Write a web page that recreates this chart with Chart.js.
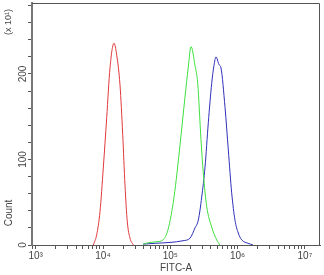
<!DOCTYPE html>
<html>
<head>
<meta charset="utf-8">
<script src="https://cdn.jsdelivr.net/npm/chart.js@4"></script>
<style>
  html, body { margin: 0; padding: 0; background: #fff; }
  #wrap { width: 324px; height: 275px; }
</style>
</head>
<body>
<div id="wrap"><canvas id="chart"></canvas></div>
<script>
// FITC-A values (x) and counts in units of x10^1 (y)
const redX = [7180, 8060, 9020, 10100, 11350, 12700, 14570, 15990, 17890, 19630, 21220, 22970, 25190, 28200];
const redY = [0, 12, 39, 90, 149, 207, 236, 222, 187, 129, 70, 27, 8, 0];

const greenX = [39300, 49900, 65600, 77900, 92500, 113600, 139400, 165300, 185000, 203100, 232900, 255400, 285800, 309300, 347500, 412200, 489000, 547000];
const greenY = [1, 3, 4, 6, 18, 56, 117, 173, 208, 232, 210, 189, 123, 84, 45, 21, 6, 0];

const blueX = [39300, 59300, 99000, 154500, 196400, 232900, 260600, 292800, 327800, 367000, 412200, 445600, 477500, 529200, 566500, 650100, 727800, 816600, 914600, 1023000, 1151000, 1429000, 1694000];
const blueY = [1, 2, 3, 5, 8, 20, 29, 56, 91, 143, 189, 210, 220, 211, 207, 161, 111, 61, 29, 14, 6, 2, 0];

const xMin = 881;
const xMax = 16760000;
const yMax = 283;
const yLabeled = [0, 100, 200];
const supers = { 3: '³', 4: '⁴', 5: '⁵', 6: '⁶', 7: '⁷' };

const toPoints = (xs, ys) => xs.map((x, i) => ({ x: x, y: ys[i] }));

const line = (label, xs, ys, color) => ({
  label: label,
  data: toPoints(xs, ys),
  borderColor: color,
  borderWidth: 1,
  pointRadius: 0,
  cubicInterpolationMode: 'monotone',
  fill: false
});

// frame on top / right plus the left-side axis texts
const framePlugin = {
  id: 'frame',
  afterDraw(chart) {
    const { ctx, chartArea: a } = chart;
    ctx.save();
    ctx.strokeStyle = '#555';
    ctx.lineWidth = 1;
    ctx.beginPath();
    ctx.moveTo(a.left, a.top + 0.5);
    ctx.lineTo(a.right - 0.5, a.top + 0.5);
    ctx.lineTo(a.right - 0.5, a.bottom);
    ctx.stroke();

    ctx.fillStyle = '#444';
    ctx.font = '10px "Liberation Sans", Arial, sans-serif';
    ctx.textAlign = 'center';
    ctx.textBaseline = 'middle';
    ctx.translate(9, 213);
    ctx.rotate(-Math.PI / 2);
    ctx.fillText('Count', 0, 0);
    ctx.restore();

    ctx.save();
    ctx.fillStyle = '#444';
    ctx.font = '9px "Liberation Sans", Arial, sans-serif';
    ctx.textAlign = 'center';
    ctx.textBaseline = 'middle';
    ctx.translate(9, 22);
    ctx.rotate(-Math.PI / 2);
    ctx.fillText('(x 10¹)', 0, 0);
    ctx.restore();
  }
};

new Chart(document.getElementById('chart'), {
  type: 'line',
  data: {
    datasets: [
      line('red', redX, redY, '#e0393b'),
      line('green', greenX, greenY, '#3ee03e'),
      line('blue', blueX, blueY, '#3030b8')
    ]
  },
  options: {
    responsive: true,
    maintainAspectRatio: false,
    animation: false,
    layout: { padding: { top: 3, right: 4, left: 0, bottom: 0 } },
    plugins: {
      legend: { display: false },
      tooltip: { enabled: false }
    },
    scales: {
      x: {
        type: 'logarithmic',
        min: xMin,
        max: xMax,
        afterBuildTicks: (scale) => {
          // keep only the 1..9 per decade ticks
          scale.ticks = scale.ticks.filter(t => {
            const m = t.value / Math.pow(10, Math.floor(Math.log10(t.value) + 1e-9));
            return Math.abs(m - Math.round(m)) < 1e-6;
          });
        },
        afterFit: (scale) => { scale.height = 30; },
        grid: {
          drawOnChartArea: false,
          drawTicks: true,
          tickLength: 4,
          tickColor: '#555'
        },
        border: { display: true, color: '#555', width: 1 },
        ticks: {
          autoSkip: false,
          maxRotation: 0,
          minRotation: 0,
          padding: 1,
          color: '#444',
          font: { family: '"Liberation Sans", Arial, sans-serif', size: 10 },
          callback: (value) => {
            const e = Math.log10(value);
            if (Math.abs(e - Math.round(e)) < 1e-9) return '10' + supers[Math.round(e)];
            return '';
          }
        },
        title: {
          display: true,
          text: 'FITC-A',
          color: '#444',
          font: { family: '"Liberation Sans", Arial, sans-serif', size: 10 },
          padding: { top: 0, bottom: 1 }
        }
      },
      y: {
        min: 0,
        max: yMax,
        afterFit: (scale) => { scale.width = 32; },
        grid: {
          drawOnChartArea: false,
          drawTicks: true,
          tickLength: 4,
          tickColor: '#555'
        },
        border: { display: true, color: '#777', width: 2 },
        ticks: {
          stepSize: 20,
          includeBounds: false,
          autoSkip: false,
          minRotation: 90,
          maxRotation: 90,
          crossAlign: 'center',
          padding: -4,
          color: '#444',
          font: { family: '"Liberation Sans", Arial, sans-serif', size: 10 },
          callback: (value) => yLabeled.includes(value) ? String(value) : ''
        }
      }
    }
  },
  plugins: [framePlugin]
});
</script>
</body>
</html>
